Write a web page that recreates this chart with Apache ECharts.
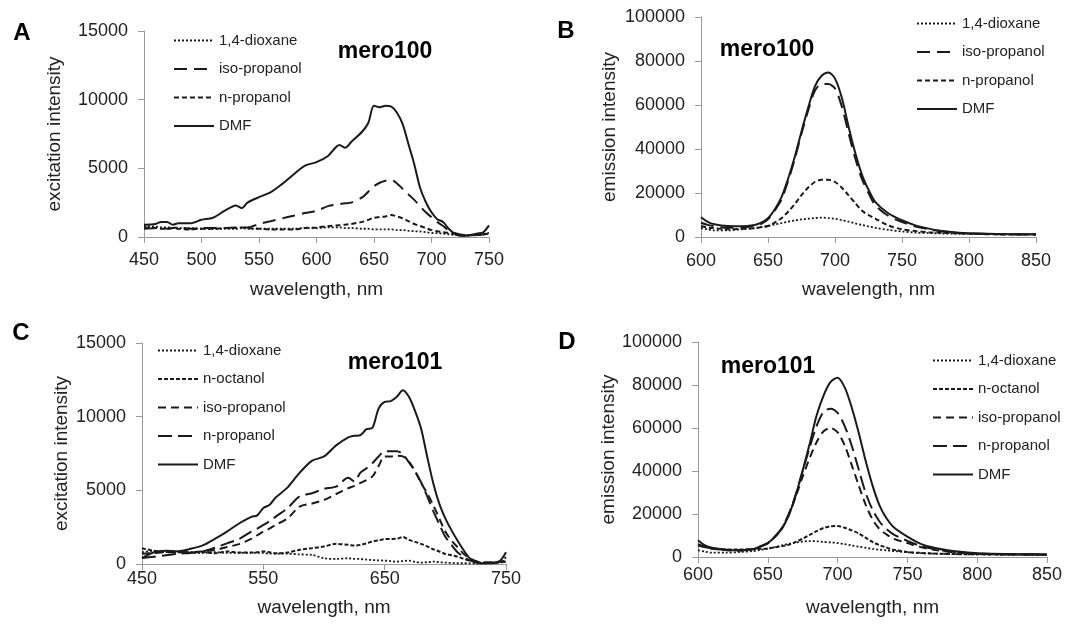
<!DOCTYPE html>
<html>
<head>
<meta charset="utf-8">
<script src="https://cdn.jsdelivr.net/npm/echarts@6/dist/echarts.min.js"></script>
<style>
html,body{margin:0;padding:0;background:#fff;}
#main{width:1088px;height:625px;}
</style>
</head>
<body>
<div id="main"></div>
<script>
// ---------- Panel A: mero100 excitation ----------
const aWavelength = [450,460,465,470,475,480,490,500,510,520,530,535,540,550,560,570,580,590,600,610,620,625,630,640,645,650,655,660,665,670,675,680,685,690,695,700,705,710,715,720,725,730,740,745,750];
const aDioxane =   [800,750,700,700,650,650,650,600,600,600,600,650,600,600,600,600,600,650,650,700,700,650,650,600,600,550,550,550,550,500,500,450,420,400,350,300,280,250,200,150,120,100,150,200,300];
const aIsoPropanol=[600,650,700,600,650,700,600,650,650,650,700,700,700,950,1150,1350,1550,1750,1900,2250,2400,2450,2500,2900,3300,3700,3950,4100,4150,3900,3500,3100,2700,2250,1800,1450,1100,800,500,300,180,120,150,200,350];
const aNPropanol = [700,650,600,600,650,600,550,600,600,650,650,700,650,600,550,550,550,650,700,800,850,900,950,1100,1250,1400,1450,1500,1600,1500,1350,1150,950,800,650,500,420,350,300,250,150,120,150,180,250];
const aDMF =       [900,950,1100,1100,900,1000,1000,1250,1400,1900,2300,2100,2500,2900,3250,3850,4550,5200,5450,5900,6700,6500,6900,7700,8300,9550,9450,9550,9500,9050,8200,6750,5300,3600,2550,1800,1300,1100,600,250,100,100,250,350,850];

// ---------- Panel B: mero100 emission ----------
const bWavelength = [600,605,610,620,630,640,645,650,655,660,665,670,675,680,685,690,695,700,705,710,715,720,725,730,740,750,760,770,780,790,800,820,850];
const bDioxane =    [4000,3500,3000,3000,3500,4000,4500,5000,5700,6300,7000,7500,8000,8300,8600,8800,8600,8300,7700,7000,6200,5500,4800,4200,3200,2500,2000,1800,1600,1500,1400,1300,1200];
const bIsoPropanol= [6500,5500,4800,4200,4300,5000,6000,8000,12000,17000,25500,35500,47000,57500,66500,69500,69500,67500,59500,47500,36000,26500,20000,14500,9500,6800,4800,3500,2500,1900,1600,1300,1100];
const bNPropanol =  [5000,4300,4000,3500,3700,4000,4500,5000,6500,8500,11500,15000,19000,22500,25000,26000,26000,25000,22500,19000,15500,12000,10000,8400,5200,3500,2700,2200,1900,1700,1500,1200,1100];
const bDMF =        [9000,6900,5800,5000,4900,5500,6500,8500,12500,18000,26500,36500,48000,58800,68500,73300,74800,72000,63500,50500,38500,28500,21500,16000,10700,7600,5300,3800,2700,2100,1700,1400,1200];

// ---------- Panel C: mero101 excitation ----------
const cWavelength = [450,460,470,480,490,500,510,520,530,540,545,550,555,560,570,580,590,600,610,620,625,630,635,640,645,650,655,660,665,670,675,680,685,690,695,700,705,710,715,720,725,730,740,745,750];
const cDioxane =    [800,900,800,800,750,750,800,750,750,750,750,750,700,700,700,650,620,390,340,390,350,340,300,270,250,230,200,160,200,230,150,90,120,160,120,90,70,50,50,50,30,20,70,100,160];
const cNOctanol =   [1070,900,850,800,800,800,730,850,780,780,800,850,800,730,780,960,1070,1190,1370,1300,1250,1300,1400,1530,1600,1690,1700,1710,1830,1640,1500,1370,1200,1000,850,680,600,500,350,230,150,90,90,120,160];
const cIsoPropanol= [700,750,800,800,800,850,950,1150,1350,1700,1950,2200,2400,2650,3100,3900,4100,4350,4750,5150,5300,5500,5700,5950,6650,7300,7300,7350,7300,6950,6300,5500,4800,4000,3100,2200,1600,1150,700,400,200,100,100,150,250];
const cNPropanol =  [400,500,600,700,750,850,1100,1400,1700,2200,2400,2650,2900,3200,3800,4600,4800,5100,5250,5850,5600,6200,6500,6850,7300,7650,7650,7650,7450,6900,6300,5550,4600,3600,2700,1850,1300,800,500,250,150,100,100,200,450];
const cDMF =        [400,800,900,870,1030,1260,1700,2200,2750,3200,3300,3800,4000,4500,5200,6200,7000,7300,8050,8600,8700,8750,9150,9250,10550,11000,11050,11350,11800,11350,10400,9200,7300,5500,4100,3100,2300,1600,950,400,100,50,50,200,800];

// ---------- Panel D: mero101 emission ----------
const dWavelength = [600,605,610,620,630,640,645,650,655,660,665,670,675,680,685,690,695,700,705,710,715,720,725,730,735,740,750,760,770,780,790,800,820,850];
const dDioxane =    [3200,2500,2000,2000,2300,2800,3300,3900,4600,5400,6100,6700,7200,7400,7300,7000,6800,6500,6000,5400,4800,4300,3800,3400,3100,2800,2200,1800,1550,1400,1300,1250,1150,1100];
const dNOctanol =   [5500,4700,4000,3500,3500,3700,3800,4000,4500,5000,5700,7000,8500,10300,12000,13500,14300,14400,13600,12400,11000,9000,7000,5500,4400,3400,2300,1900,1600,1400,1300,1250,1150,1100];
const dIsoPropanol= [5500,4500,3800,3200,3000,3700,5000,6300,9300,13000,19500,28000,37500,46000,53500,58500,60000,58000,52000,43000,33500,24500,17500,13000,10500,8500,6500,4500,3300,2400,1900,1500,1200,1100];
const dNPropanol =  [6000,4800,4000,3300,3100,3800,5000,6500,9500,13500,20000,29000,40000,51000,61000,67500,69000,67000,61000,52000,41000,30000,22000,16500,13000,10500,7500,5000,3600,2600,2000,1600,1300,1100];
const dDMF =        [7750,5400,4300,3400,3100,3700,5000,6500,9300,13200,19400,28700,40300,52700,65900,75200,81400,83400,79000,69800,58100,45000,33300,24000,18000,14000,9500,6000,4200,3000,2300,1800,1400,1200];

// ---------- labels ----------
const panelLetters = ['A','B','C','D'];
const panelTitles = ['mero100','mero100','mero101','mero101'];
const xName = 'wavelength, nm';
const yNames = ['excitation intensity','emission intensity','excitation intensity','emission intensity'];

const FONT = '"Liberation Sans", Arial, sans-serif';
const INK = '#1a1a1a';
const AXIS = '#9a9a9a';

const chart = echarts.init(document.getElementById('main'), null, {renderer:'canvas'});

const grids = [
  {left:144, top:31, width:345, height:206},
  {left:701, top:17, width:335, height:220},
  {left:142, top:343, width:364, height:221},
  {left:698, top:342, width:349, height:215}
];
const xCfg = [
  {min:450,max:750,interval:50, margin:14, nameGap:43},
  {min:600,max:850,interval:50, margin:15, nameGap:43},
  {min:450,max:750,interval:100, margin:6, nameGap:34},
  {min:600,max:850,interval:50, margin:9, nameGap:41}
];
const yCfg = [
  {max:15000, interval:5000, nameGap:80},
  {max:100000, interval:20000, nameGap:82},
  {max:15000, interval:5000, nameGap:71},
  {max:100000, interval:20000, nameGap:75}
];
const plain = v => String(v);

const xAxes = xCfg.map((c,i)=>({
  type:'value', gridIndex:i, min:c.min, max:c.max, interval:c.interval,
  name:xName, nameLocation:'middle', nameGap:c.nameGap,
  nameTextStyle:{fontFamily:FONT, fontSize:19, color:'#222'},
  axisLine:{show:true, lineStyle:{color:AXIS, width:1}},
  axisTick:{show:true, length:6, lineStyle:{color:AXIS}},
  splitLine:{show:false},
  axisLabel:{fontFamily:FONT, fontSize:18, color:'#222', margin:c.margin, formatter:plain}
}));
const yAxes = yCfg.map((c,i)=>({
  type:'value', gridIndex:i, min:0, max:c.max, interval:c.interval,
  name:yNames[i], nameLocation:'middle', nameGap:c.nameGap,
  nameTextStyle:{fontFamily:FONT, fontSize:19, color:'#222'},
  axisLine:{show:true, lineStyle:{color:AXIS, width:1}},
  axisTick:{show:true, length:6, lineStyle:{color:AXIS}},
  splitLine:{show:false},
  axisLabel:{fontFamily:FONT, fontSize:18, color:'#222', margin:16, formatter:plain}
}));

const DOT=[2,2], SHORT=[5,3], MED=[8,5], LONG=[14,6];
function mk(panel, idx, name, xs, ys, dash, width){
  return {
    type:'line', name: panel+'|'+name, xAxisIndex:idx, yAxisIndex:idx,
    data: xs.map((x,i)=>[x, ys[i]]),
    showSymbol:false, symbol:'none', smooth:0.3,
    lineStyle:{color:INK, width:width||2, type: dash||'solid'},
    itemStyle:{color:INK}
  };
}
const series = [
  mk('A',0,'1,4-dioxane',aWavelength,aDioxane,DOT,1.8),
  mk('A',0,'iso-propanol',aWavelength,aIsoPropanol,[13,7]),
  mk('A',0,'n-propanol',aWavelength,aNPropanol,SHORT),
  mk('A',0,'DMF',aWavelength,aDMF,'solid'),
  mk('B',1,'1,4-dioxane',bWavelength,bDioxane,DOT,1.8),
  mk('B',1,'iso-propanol',bWavelength,bIsoPropanol,[13,7]),
  mk('B',1,'n-propanol',bWavelength,bNPropanol,SHORT),
  mk('B',1,'DMF',bWavelength,bDMF,'solid'),
  mk('C',2,'1,4-dioxane',cWavelength,cDioxane,DOT,1.8),
  mk('C',2,'n-octanol',cWavelength,cNOctanol,[4,2]),
  mk('C',2,'iso-propanol',cWavelength,cIsoPropanol,MED),
  mk('C',2,'n-propanol',cWavelength,cNPropanol,LONG),
  mk('C',2,'DMF',cWavelength,cDMF,'solid'),
  mk('D',3,'1,4-dioxane',dWavelength,dDioxane,DOT,1.8),
  mk('D',3,'n-octanol',dWavelength,dNOctanol,[4,2]),
  mk('D',3,'iso-propanol',dWavelength,dIsoPropanol,MED),
  mk('D',3,'n-propanol',dWavelength,dNPropanol,LONG),
  mk('D',3,'DMF',dWavelength,dDMF,'solid')
];

const legendPos = {A:{left:173,top:33}, B:{left:916,top:16}, C:{left:157,top:343}, D:{left:932,top:353}};
const legends = panelLetters.map(p=>({
  orient:'vertical', left:legendPos[p].left, top:legendPos[p].top, padding:0,
  itemWidth:40, itemHeight:14, itemGap:13.5,
  data: series.filter(s=>s.name.startsWith(p+'|')).map(s=>s.name),
  formatter: n=>n.split('|')[1],
  itemStyle:{opacity:0, borderWidth:0},
  textStyle:{fontFamily:FONT, fontSize:15, color:'#222'},
  selectedMode:false
}));

const letterPos = [[22,33],[566,31],[21,333],[567,342]];
const titlePos = [[385,52],[767,50],[395,363],[768,367]];
const graphics = [];
letterPos.forEach((p,i)=>graphics.push({type:'text', x:p[0], y:p[1],
  style:{text:panelLetters[i], font:'bold 24px '+FONT, fill:'#000', textAlign:'center', textVerticalAlign:'middle'}}));
titlePos.forEach((p,i)=>graphics.push({type:'text', x:p[0], y:p[1],
  style:{text:panelTitles[i], font:'bold 23px '+FONT, fill:'#000', textAlign:'center', textVerticalAlign:'middle'}}));

chart.setOption({
  animation:false,
  backgroundColor:'#fff',
  grid:grids,
  xAxis:xAxes,
  yAxis:yAxes,
  legend:legends,
  series:series,
  graphic:graphics
});
</script>
</body>
</html>
